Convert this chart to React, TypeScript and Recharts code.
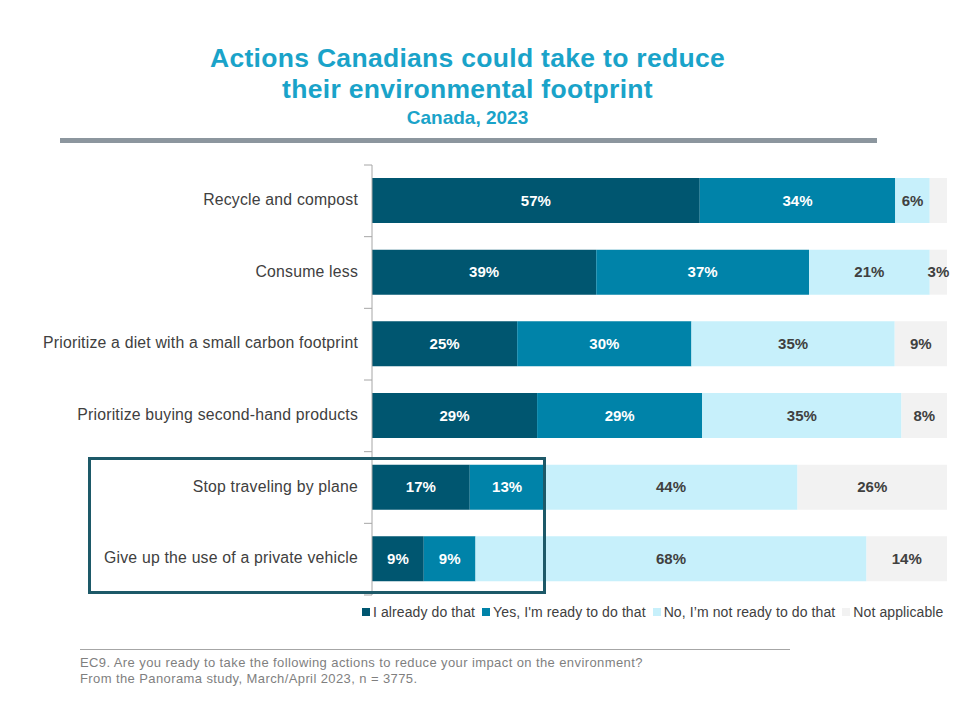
import { BarChart, Bar, XAxis, YAxis, LabelList } from 'recharts';

const categories = [
  'Recycle and compost',
  'Consume less',
  'Prioritize a diet with a small carbon footprint',
  'Prioritize buying second-hand products',
  'Stop traveling by plane',
  'Give up the use of a private vehicle',
];
const alreadyDo = [57, 39, 25, 29, 17, 9];
const readyTo = [34, 37, 30, 29, 13, 9];
const notReady = [6, 21, 35, 35, 44, 68];
const notApplicable = [3, 3, 9, 8, 26, 14];
// the small N/A slice in the first row carries no label in the original
const naLabelShown = [false, true, true, true, true, true];

const series = [
  { key: 'already', name: 'I already do that', color: '#005670', text: '#ffffff' },
  { key: 'ready', name: "Yes, I'm ready to do that", color: '#0083a9', text: '#ffffff' },
  { key: 'notReady', name: 'No, I’m not ready to do that', color: '#c7f0fb', text: '#404040' },
  { key: 'na', name: 'Not applicable', color: '#f2f2f2', text: '#404040' },
];

const data = categories.map((name, i) => ({
  name,
  already: alreadyDo[i],
  ready: readyTo[i],
  notReady: notReady[i],
  na: notApplicable[i],
}));

const W = 960;
const H = 720;
const margin = { top: 165, right: 13, bottom: 125, left: 0 };
const halfBand = (H - margin.top - margin.bottom) / categories.length / 2;
const FONT = '"Liberation Sans", Arial, sans-serif';

const CategoryTick = (props: any) => {
  const { x, y, payload, index } = props;
  return (
    <g>
      <line x1={x - 8} x2={x} y1={y - halfBand} y2={y - halfBand} stroke="#a6a6a6" />
      {index === categories.length - 1 && (
        <line x1={x - 8} x2={x} y1={y + halfBand} y2={y + halfBand} stroke="#a6a6a6" />
      )}
      <text x={x - 14} y={y} dy={4} textAnchor="end" fill="#404040" fontSize={15.8} letterSpacing={0.2} fontFamily={FONT}>
        {payload.value}
      </text>
    </g>
  );
};

const makeLabel = (textColor: string, key: string) => (props: any) => {
  const { x, y, width, height, value, index } = props;
  if (key === 'na' && !naLabelShown[index]) return null;
  return (
    <text
      x={x + width / 2}
      y={y + height / 2}
      dy={5}
      textAnchor="middle"
      fill={textColor}
      fontSize={15}
      fontWeight="bold"
      fontFamily={FONT}
    >
      {value}%
    </text>
  );
};

export default function App() {
  return (
    <div style={{ position: 'absolute', left: 0, top: 0, width: W, height: H, background: '#fff', fontFamily: FONT }}>
      <div style={{ position: 'absolute', left: 0, width: 935, top: 43, textAlign: 'center', color: '#1aa3c9', fontWeight: 'bold' }}>
        <div style={{ fontSize: 26.5, lineHeight: '31px', letterSpacing: 0.3 }}>Actions Canadians could take to reduce</div>
        <div style={{ fontSize: 26.5, lineHeight: '31px', letterSpacing: 0.3 }}>their environmental footprint</div>
        <div style={{ fontSize: 19, lineHeight: '26px' }}>Canada, 2023</div>
      </div>
      <div style={{ position: 'absolute', left: 60, top: 138, width: 817, height: 5, background: '#8c969e' }} />

      <BarChart
        width={W}
        height={H}
        data={data}
        layout="vertical"
        stackOffset="expand"
        margin={margin}
        barSize={45}
      >
        <XAxis type="number" domain={[0, 1]} hide />
        <YAxis
          type="category"
          dataKey="name"
          width={372}
          axisLine={{ stroke: '#a6a6a6' }}
          tickLine={false}
          tickSize={0}
          tickMargin={0}
          tick={<CategoryTick />}
          interval={0}
        />
        {series.map((s) => (
          <Bar key={s.key} dataKey={s.key} name={s.name} stackId="a" fill={s.color} isAnimationActive={false}>
            <LabelList dataKey={s.key} content={makeLabel(s.text, s.key)} />
          </Bar>
        ))}
      </BarChart>

      <div
        style={{
          position: 'absolute',
          left: 88,
          top: 457,
          width: 452,
          height: 131,
          border: '3px solid #1d5968',
          pointerEvents: 'none',
        }}
      />

      <div style={{ position: 'absolute', left: 362, top: 604, display: 'flex', fontSize: 14, letterSpacing: 0.1, color: '#404040', whiteSpace: 'nowrap' }}>
        {series.map((s) => (
          <div key={s.key} style={{ display: 'flex', alignItems: 'center', marginRight: 7 }}>
            <span style={{ display: 'inline-block', width: 8, height: 8, background: s.color, marginRight: 3 }} />
            {s.name}
          </div>
        ))}
      </div>

      <div style={{ position: 'absolute', left: 80, top: 649, width: 710, height: 1, background: '#a6a6a6' }} />
      <div style={{ position: 'absolute', left: 80, top: 655, fontSize: 13, lineHeight: '16px', letterSpacing: 0.4, color: '#7f7f7f' }}>
        <div>EC9. Are you ready to take the following actions to reduce your impact on the environment?</div>
        <div>From the Panorama study, March/April 2023, n = 3775.</div>
      </div>
    </div>
  );
}
